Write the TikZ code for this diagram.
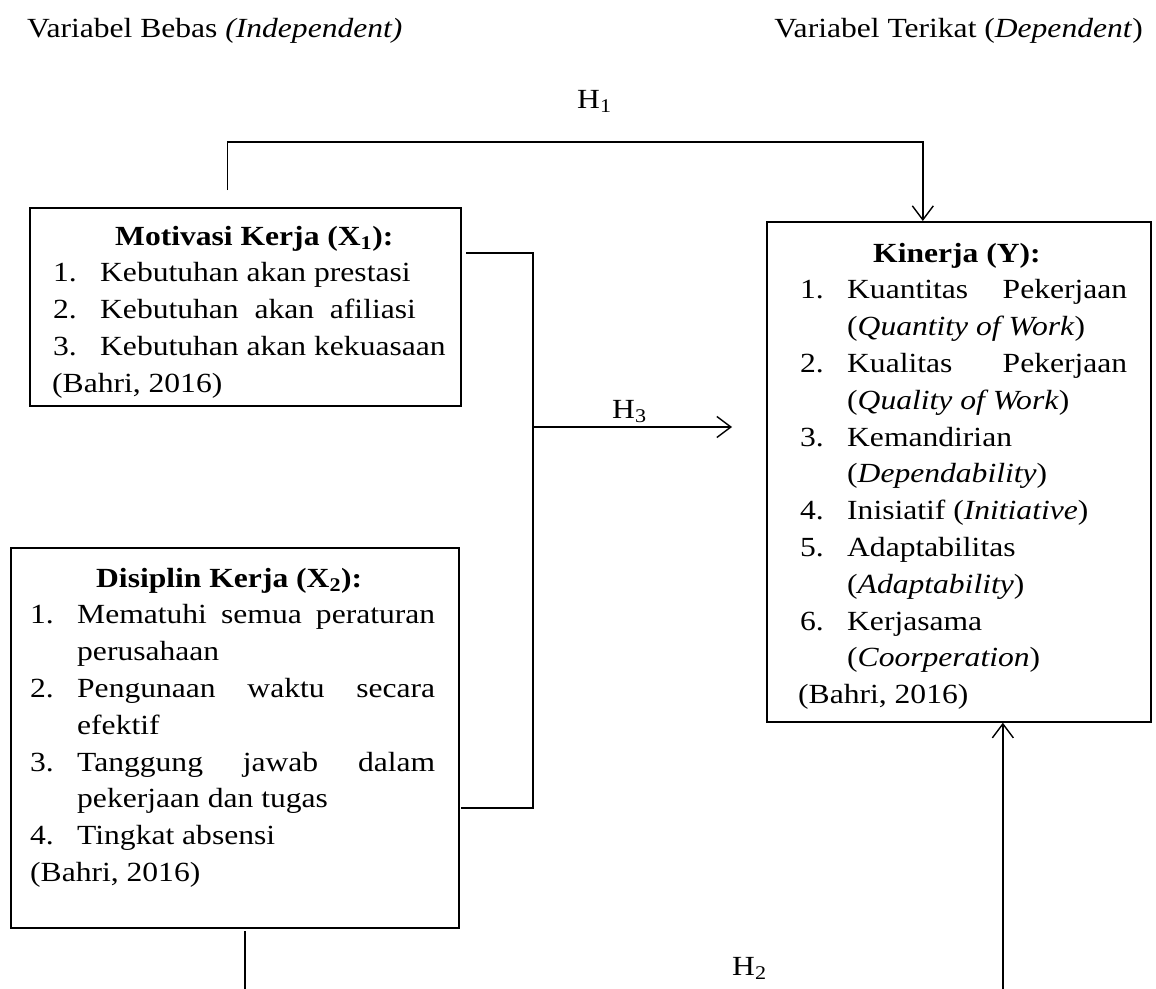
\documentclass[tikz,border=0pt]{standalone}
\usepackage{fontspec}
\setmainfont{Liberation Serif}[FakeStretch=1.14]
\usetikzlibrary{arrows.meta}
\tikzset{
  varbox/.style={draw, line width=1.7pt, inner sep=0pt, anchor=north west},
  boxtext/.style={inner sep=0pt, anchor=base west, font=\fontsize{27.7pt}{36.8pt}\selectfont},
  link/.style={line width=1.4pt},
  hyp/.style={link, -{Straight Barb[length=14pt,width=21pt,line width=1.4pt]}}
}
\newcommand{\numitem}[2]{\makebox[47pt][l]{#1}#2\par}
\newcommand{\wrapline}[1]{\hspace*{47pt}#1\par}

\begin{document}
\begin{tikzpicture}[x=1pt,y=-1pt]
\useasboundingbox (0,0) rectangle (1156,988);
% judul
\node[boxtext] (tbebas) at (27,37) {Variabel Bebas \textit{(Independent)}};
\node[boxtext, anchor=base east] (tterikat) at (1143,37) {Variabel Terikat (\textit{Dependent})};

% kotak variabel
\node[varbox, minimum width=431pt, minimum height=198pt] (mot) at (29,207) {};
\node[varbox, minimum width=448pt, minimum height=380pt] (dis) at (10,547) {};
\node[varbox, minimum width=384pt, minimum height=500pt] (kin) at (766,221) {};

\node[boxtext] (mottext) at (29,245) {\parbox[t]{431pt}{%
  \hspace*{86pt}\textbf{Motivasi Kerja (X\textsubscript{1}):}\par
  \hspace*{24pt}\numitem{1.}{Kebutuhan akan prestasi}
  \hspace*{24pt}\numitem{2.}{Kebutuhan\ \ akan\ \ afiliasi}
  \hspace*{24pt}\numitem{3.}{Kebutuhan akan kekuasaan}
  \hspace*{23pt}(Bahri, 2016)\par}};

\node[boxtext] (distext) at (10,587) {\parbox[t]{448pt}{%
  \hspace*{86pt}\textbf{Disiplin Kerja (X\textsubscript{2}):}\par
  \hspace*{20pt}\numitem{1.}{\makebox[358pt][s]{Mematuhi semua peraturan}}
  \hspace*{20pt}\wrapline{perusahaan}
  \hspace*{20pt}\numitem{2.}{\makebox[358pt][s]{Pengunaan waktu secara}}
  \hspace*{20pt}\wrapline{efektif}
  \hspace*{20pt}\numitem{3.}{\makebox[358pt][s]{Tanggung jawab dalam}}
  \hspace*{20pt}\wrapline{pekerjaan dan tugas}
  \hspace*{20pt}\numitem{4.}{Tingkat absensi}
  \hspace*{20pt}(Bahri, 2016)\par}};

\node[boxtext] (kintext) at (766,262) {\parbox[t]{384pt}{%
  \hspace*{107pt}\textbf{Kinerja (Y):}\par
  \hspace*{34pt}\numitem{1.}{\makebox[280pt][s]{Kuantitas Pekerjaan}}
  \hspace*{34pt}\wrapline{(\textit{Quantity of Work})}
  \hspace*{34pt}\numitem{2.}{\makebox[280pt][s]{Kualitas Pekerjaan}}
  \hspace*{34pt}\wrapline{(\textit{Quality of Work})}
  \hspace*{34pt}\numitem{3.}{Kemandirian}
  \hspace*{34pt}\wrapline{(\textit{Dependability})}
  \hspace*{34pt}\numitem{4.}{Inisiatif (\textit{Initiative})}
  \hspace*{34pt}\numitem{5.}{Adaptabilitas}
  \hspace*{34pt}\wrapline{(\textit{Adaptability})}
  \hspace*{34pt}\numitem{6.}{Kerjasama}
  \hspace*{34pt}\wrapline{(\textit{Coorperation})}
  \hspace*{32pt}(Bahri, 2016)\par}};

% hipotesis
\node[boxtext] (h1) at (577,108) {H\textsubscript{1}};
\node[boxtext] (h3) at (612,418) {H\textsubscript{3}};
\node[boxtext] (h2) at (732,975) {H\textsubscript{2}};

\coordinate (h1a) at (227.5,190);
\draw[hyp] (h1a) -- (227.5,142) -| ([xshift=-36pt]kin.north);

\coordinate (motout) at (466,253);
\coordinate (disout) at (461,808);
\coordinate (jtop) at (533,253);
\coordinate (jbot) at (533,808);
\draw[link] (motout) -- (jtop) -- (jbot) -- (disout);
\coordinate (h3a) at (533,427);
\draw[hyp, shorten >=34pt] (h3a) -- (h3a -| kin.west);

\coordinate (h2a) at (245,931);
\draw[hyp] (h2a) -- ++(0,90) -| ([xshift=44pt]kin.south);
\end{tikzpicture}
\end{document}
